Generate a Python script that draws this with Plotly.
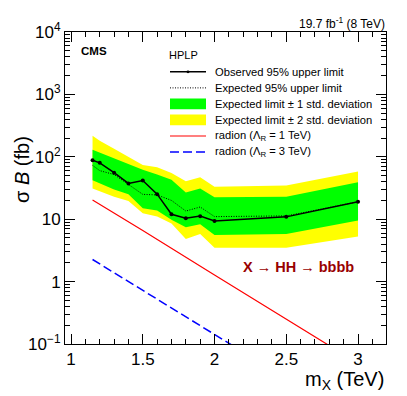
import plotly.graph_objects as go

# mass points (TeV)
MASS = [1.15, 1.2, 1.3, 1.4, 1.5, 1.6, 1.7, 1.8, 1.9, 2.0, 2.5, 3.0]
OBSERVED = [88, 80, 55.6, 37.4, 41.7, 25.2, 12.0, 10.4, 11.2, 9.4, 10.9, 19.1]
EXPECTED = [73, 60, 52, 36, 25, 24.5, 20, 13.5, 15.7, 11.0, 11.3, 19.0]
EXP_1UP = [130, 117, 94, 76, 62, 52, 43, 26.8, 31, 22.4, 23, 39]
EXP_1DN = [42, 38, 30, 25, 15, 13.8, 9.8, 7.4, 8.3, 5.6, 5.8, 9.5]
EXP_2UP = [217, 181, 135, 100, 74, 68, 55, 40.6, 46.9, 33, 34.8, 58]
EXP_2DN = [31, 28, 23, 19.5, 12.5, 11, 8.5, 4.8, 5.8, 3.5, 3.5, 5.3]

RADION_MASS = [1.15, 1.5, 2.0, 2.5, 3.0]
RADION_1TEV = [20.3, 6.6, 1.28, 0.25, 0.049]
RADION_3TEV = [2.26, 0.73, 0.142, 0.028, 0.0054]

Y_TICKS = [0.1, 1, 10, 100, 1000, 10000]
Y_TICKTEXT = ["10<sup>\u22121</sup>", "1", "10", "10<sup>2</sup>", "10<sup>3</sup>", "10<sup>4</sup>"]

FONT = "Liberation Sans, Arial, Helvetica, sans-serif"
PAGE_PAD = 8  # default body margin of the html page
W, H = 407, 396
L, R, T, B = 65, 21, 23, 52
PW, PH = W - L - R, H - T - B


def px(x):
    return (x - L) / PW


def py(y):
    return (H - B - y) / PH


def band(lo, hi):
    return MASS + MASS[::-1], hi + lo[::-1]


fig = go.Figure()
bx, by = band(EXP_2DN, EXP_2UP)
fig.add_scatter(x=bx, y=by, fill="toself", fillcolor="#ffff00", line=dict(width=0), mode="lines")
bx, by = band(EXP_1DN, EXP_1UP)
fig.add_scatter(x=bx, y=by, fill="toself", fillcolor="#00ff00", line=dict(width=0), mode="lines")
fig.add_scatter(x=MASS, y=EXPECTED, mode="lines", line=dict(color="black", width=1, dash="1px,1.5px"))
fig.add_scatter(x=MASS, y=OBSERVED, mode="lines+markers", line=dict(color="black", width=1.5),
                marker=dict(color="black", size=4))
fig.add_scatter(x=RADION_MASS, y=RADION_1TEV, mode="lines", line=dict(color="#ff0000", width=1.2))
fig.add_scatter(x=RADION_MASS, y=RADION_3TEV, mode="lines", line=dict(color="#0000ff", width=1.5, dash="9px,4px"))

minor_y = [m * 10 ** e for e in range(-1, 4) for m in range(2, 10)]

fig.update_layout(
    width=W - PAGE_PAD, height=H - PAGE_PAD,
    margin=dict(l=L - PAGE_PAD, r=R, t=T - PAGE_PAD, b=B),
    paper_bgcolor="white", plot_bgcolor="white",
    showlegend=False,
    font=dict(family=FONT, size=17, color="black"),
)
fig.update_xaxes(
    range=[0.958, 3.195], showgrid=False, zeroline=False,
    showline=True, linecolor="black", linewidth=1, mirror="allticks",
    ticks="inside", ticklen=10, tickcolor="black", tick0=0, dtick=0.5,
    minor=dict(ticks="inside", ticklen=5, dtick=0.1, tickcolor="black", showgrid=False),
)
fig.update_yaxes(
    type="log", range=[-1, 4], showgrid=False, zeroline=False,
    showline=True, linecolor="black", linewidth=1, mirror="allticks",
    ticks="inside", ticklen=10, tickcolor="black",
    tickvals=Y_TICKS, ticktext=Y_TICKTEXT,
    minor=dict(ticks="inside", ticklen=5, tickvals=minor_y, tickcolor="black", showgrid=False),
)

ann = dict(xref="paper", yref="paper", showarrow=False, yanchor="middle")
fig.add_annotation(**ann, x=px(22), y=py(165), xanchor="center", text="\u03c3 <i>B</i> (fb)",
                   textangle=-90, font=dict(size=20))
fig.add_annotation(**ann, x=px(386), y=py(382), xanchor="right", text="m<sub>X</sub> (TeV)",
                   font=dict(size=20))
fig.add_annotation(**ann, x=px(387), y=py(14), xanchor="right", text="19.7 fb<sup>-1</sup> (8 TeV)",
                   font=dict(size=12))
fig.add_annotation(**ann, x=px(79), y=py(43), xanchor="left", text="<b>CMS</b>", font=dict(size=11.5))
fig.add_annotation(**ann, x=px(241), y=py(265), xanchor="left",
                   text="<b>X \u2192 HH \u2192 bbbb</b>", font=dict(size=14.5, color="#990000"))

# legend, drawn ROOT style
fig.add_annotation(**ann, x=px(167), y=py(47), xanchor="left", text="HPLP", font=dict(size=11))
entries = [
    ("Observed 95% upper limit", "obs"),
    ("Expected 95% upper limit", "exp"),
    ("Expected limit \u00b1 1 std. deviation", "#00ff00"),
    ("Expected limit \u00b1 2 std. deviation", "#ffff00"),
    ("radion (\u039b<sub>R</sub> = 1 TeV)", "red"),
    ("radion (\u039b<sub>R</sub> = 3 TeV)", "blue"),
]
x0, x1, xt = px(170), px(206), px(213)
for i, (label, style) in enumerate(entries):
    yc = 64 + 16.5 * i
    y = py(yc)
    if style == "obs":
        fig.add_shape(type="line", xref="paper", yref="paper", x0=x0, x1=x1, y0=y, y1=y,
                      line=dict(color="black", width=1.5))
        fig.add_shape(type="circle", xref="paper", yref="paper", x0=px(186.5), x1=px(189.5),
                      y0=py(yc + 1.5), y1=py(yc - 1.5), fillcolor="black", line=dict(width=0))
    elif style == "exp":
        fig.add_shape(type="line", xref="paper", yref="paper", x0=x0, x1=x1, y0=y, y1=y,
                      line=dict(color="black", width=1, dash="1px,1.5px"))
    elif style == "red":
        fig.add_shape(type="line", xref="paper", yref="paper", x0=x0, x1=x1, y0=y, y1=y,
                      line=dict(color="#ff0000", width=1.2))
    elif style == "blue":
        fig.add_shape(type="line", xref="paper", yref="paper", x0=x0, x1=x1, y0=y, y1=y,
                      line=dict(color="#0000ff", width=1.5, dash="9px,4px"))
    else:
        fig.add_shape(type="rect", xref="paper", yref="paper", x0=x0, x1=x1,
                      y0=py(yc + 5.5), y1=py(yc - 5.5), fillcolor=style, line=dict(width=0))
    fig.add_annotation(**ann, x=xt, y=y, xanchor="left", text=label, font=dict(size=11.2))

fig.write_html("out.html")
